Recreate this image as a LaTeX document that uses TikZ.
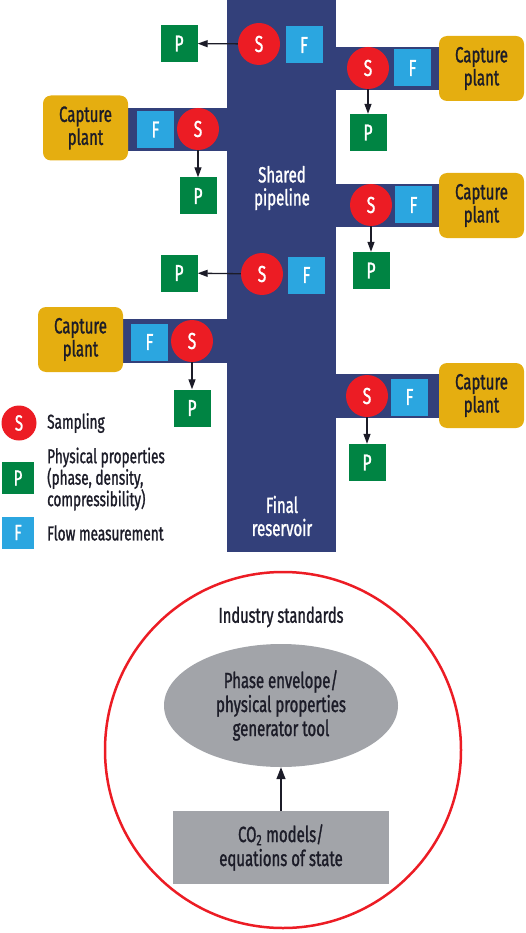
\documentclass[tikz,border=0pt]{standalone}
\usepackage{fontspec}
\setmainfont{Fira Sans}[FakeStretch=0.68,FakeBold=1.2]
\usetikzlibrary{arrows.meta,shapes.geometric}
\definecolor{pipeblue}{HTML}{33407A}
\definecolor{sred}{HTML}{EC1C24}
\definecolor{fblue}{HTML}{2BA6E0}
\definecolor{pgreen}{HTML}{008443}
\definecolor{gold}{HTML}{E5AE10}
\definecolor{stdgray}{HTML}{A2A4A9}
\definecolor{ink}{HTML}{1C1C28}
\tikzset{
  samp/.style={circle,fill=sred,text=white,minimum size=42pt,inner sep=0pt,font=\fontsize{23}{24}\selectfont},
  flow/.style={rectangle,fill=fblue,text=white,minimum width=37pt,minimum height=37pt,inner sep=0pt,font=\fontsize{23}{24}\selectfont},
  prop/.style={rectangle,fill=pgreen,text=white,minimum width=37pt,minimum height=37pt,inner sep=0pt,font=\fontsize{23}{24}\selectfont},
  plant/.style={rectangle,rounded corners=8pt,fill=gold,text=ink,minimum width=85pt,minimum height=65pt,inner sep=0pt,align=center,font=\fontsize{22}{23}\selectfont},
  branch/.style={fill=pipeblue},
  conn/.style={-{Triangle[length=10pt,width=7pt]},line width=1.3pt,draw=ink},
  lgsamp/.style={circle,fill=sred,text=white,minimum size=35pt,inner sep=0pt,font=\fontsize{22}{24}\selectfont},
  lgbox/.style={rectangle,text=white,minimum width=32pt,minimum height=32pt,inner sep=0pt,font=\fontsize{22}{24}\selectfont},
  lgtext/.style={anchor=west,text=ink,align=left,inner sep=0pt,font=\fontsize{20}{21.5}\selectfont},
  pipetext/.style={text=white,align=center,font=\fontsize{22}{23}\selectfont},
}
\begin{document}
\begin{tikzpicture}[x=1pt,y=-1pt]
\useasboundingbox (0,0) rectangle (525,933);
% pipeline and branches
\node[fill=pipeblue,minimum width=109pt,minimum height=552pt,inner sep=0pt,anchor=north west] (pipe) at (227,0) {};
\fill[branch] (335,47) rectangle (440,90);
\fill[branch] (127,108) rectangle (228,151);
\fill[branch] (335,184) rectangle (440,227);
\fill[branch] (122,319) rectangle (228,363);
\fill[branch] (335,374) rectangle (440,418);
\node[pipetext] (shared) at (282,188) {Shared\\pipeline};
\node[pipetext] (final) at (282,516) {Final\\reservoir};
% capture plants
\node[plant] (pr1) at (481.5,68.5) {Capture\\plant};
\node[plant] (pl1) at (85.5,128) {Capture\\plant};
\node[plant] (pr2) at (481.5,205.5) {Capture\\plant};
\node[plant] (pl2) at (80.5,339.5) {Capture\\plant};
\node[plant] (pr3) at (481.5,395.5) {Capture\\plant};
% flow measurement
\node[flow] (ft) at (304,45) {F};
\node[flow] (fr1) at (412.5,68) {F};
\node[flow] (fl1) at (155.5,129.5) {F};
\node[flow] (fr2) at (413.5,205) {F};
\node[flow] (fm) at (306.5,275) {F};
\node[flow] (fl2) at (149.5,342) {F};
\node[flow] (fr3) at (409.5,397) {F};
% sampling
\node[samp] (st) at (259,44) {S};
\node[samp] (sr1) at (368,68) {S};
\node[samp] (sl1) at (198,129) {S};
\node[samp] (sr2) at (371,205) {S};
\node[samp] (sm) at (262,274) {S};
\node[samp] (sl2) at (192,341) {S};
\node[samp] (sr3) at (367,396) {S};
% physical properties
\node[prop] (pt) at (179,43.5) {P};
\node[prop] (ppr1) at (368,132.5) {P};
\node[prop] (ppl1) at (198,196) {P};
\node[prop] (ppr2) at (371,270.5) {P};
\node[prop] (pm) at (179,273) {P};
\node[prop] (ppl2) at (192,408) {P};
\node[prop] (ppr3) at (367,462.5) {P};
% connectors
\draw[conn] (st) -- (pt);
\draw[conn] (sr1) -- (ppr1);
\draw[conn] (sl1) -- (ppl1);
\draw[conn] (sr2) -- (ppr2);
\draw[conn] (sm) -- (pm);
\draw[conn] (sl2) -- (ppl2);
\draw[conn] (sr3) -- (ppr3);
% legend
\node[lgsamp] (lgs) at (19,423) {S};
\node[lgbox,fill=pgreen] (lgp) at (18,478) {P};
\node[lgbox,fill=fblue] (lgf) at (18,532.5) {F};
\node[lgtext] (lgst) at (47,423) {Sampling};
\node[lgtext] (lgpt) at (47,479) {Physical properties\\(phase, density,\\compressibility)};
\node[lgtext] (lgft) at (47,533) {Flow measurement};
% industry standards
\node[circle,draw=sred,line width=2.5pt,minimum size=356pt,inner sep=0pt] (std) at (283,750) {};
\node[text=ink,font=\fontsize{21.5}{24}\selectfont] (stdlabel) at (281,617) {Industry standards};
\node[ellipse,fill=stdgray,minimum width=234pt,minimum height=123pt,inner sep=0pt,align=center,text=ink,font=\fontsize{22}{24}\selectfont] (tool) at (281,705.5) {Phase envelope/\\physical properties\\generator tool};
\node[rectangle,fill=stdgray,minimum width=216pt,minimum height=73pt,inner sep=0pt,align=center,text=ink,font=\fontsize{22}{24}\selectfont] (models) at (281,847.5) {CO\textsubscript{2} models/\\equations of state};
\draw[-{Triangle[length=12pt,width=9pt]},line width=1.4pt,draw=ink] (models) -- (tool);
\end{tikzpicture}
\end{document}
